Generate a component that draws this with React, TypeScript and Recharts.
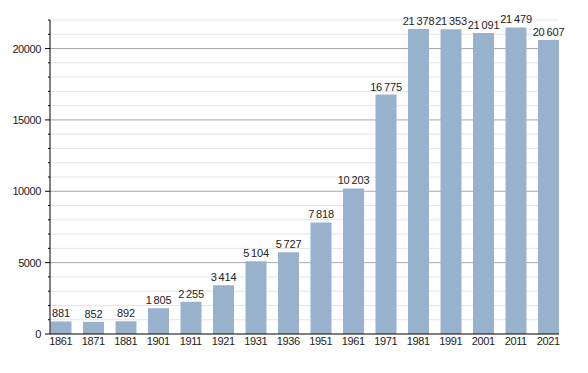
import React from 'react';
import { BarChart, Bar, XAxis, YAxis, CartesianGrid, LabelList } from 'recharts';

const years = ['1861', '1871', '1881', '1901', '1911', '1921', '1931', '1936', '1951', '1961', '1971', '1981', '1991', '2001', '2011', '2021'];
const population = [881, 852, 892, 1805, 2255, 3414, 5104, 5727, 7818, 10203, 16775, 21378, 21353, 21091, 21479, 20607];
const yTicks = [0, 1000, 2000, 3000, 4000, 5000, 6000, 7000, 8000, 9000, 10000, 11000, 12000, 13000, 14000, 15000, 16000, 17000, 18000, 19000, 20000, 21000, 22000];
const majorValues = [5000, 10000, 15000, 20000];
const minorValues = [1000, 2000, 3000, 4000, 6000, 7000, 8000, 9000, 11000, 12000, 13000, 14000, 16000, 17000, 18000, 19000, 21000, 22000];

const data = years.map((year, i) => ({ year, pop: population[i] }));

const FONT = 'Liberation Sans, Arial, Helvetica, sans-serif';

const fmt = (v: any) => String(v).replace(/\B(?=(\d{3})+(?!\d))/g, '\u2009');

const YTick = (props: any) => {
  const { x, y, payload } = props;
  const v = payload.value;
  const major = v % 5000 === 0;
  return (
    <g>
      <line x1={x - (major ? 5 : 2)} x2={x} y1={y} y2={y} stroke="#000" strokeWidth={1} />
      {major && (
        <text x={x - 9} y={y} dy={4} textAnchor="end" fontSize={11} fontFamily={FONT} fill="#222" letterSpacing="-0.4px">
          {v}
        </text>
      )}
    </g>
  );
};

export default function App() {
  return (
    <BarChart
      width={580}
      height={365}
      data={data}
      margin={{ top: 12, right: 29, bottom: 19, left: 0 }}
    >
      <CartesianGrid vertical={false} horizontalValues={minorValues} stroke="#e4e4e4" />
      <CartesianGrid vertical={false} horizontalValues={majorValues} stroke="#a8a8a8" />
      <XAxis
        dataKey="year"
        height={20}
        tickLine={false}
        tickSize={0}
        tickMargin={3}
        axisLine={{ stroke: '#000' }}
        padding={{ left: -5.5, right: -5.5 }}
        interval={0}
        tick={{ fontSize: 11, fontFamily: FONT, fill: '#222', letterSpacing: '-0.4px' }}
      />
      <YAxis
        width={42}
        domain={[0, 22000]}
        ticks={yTicks}
        interval={0}
        tickLine={false}
        tickSize={0}
        tickMargin={0}
        axisLine={{ stroke: '#000' }}
        tick={<YTick />}
      />
      <Bar dataKey="pop" fill="#98b2cd" barSize={21} isAnimationActive={false}>
        <LabelList
          dataKey="pop"
          position="top"
          offset={4}
          formatter={fmt}
          style={{ fontSize: 11, fontFamily: FONT, fill: '#222', letterSpacing: '-0.2px' }}
        />
      </Bar>
    </BarChart>
  );
}
